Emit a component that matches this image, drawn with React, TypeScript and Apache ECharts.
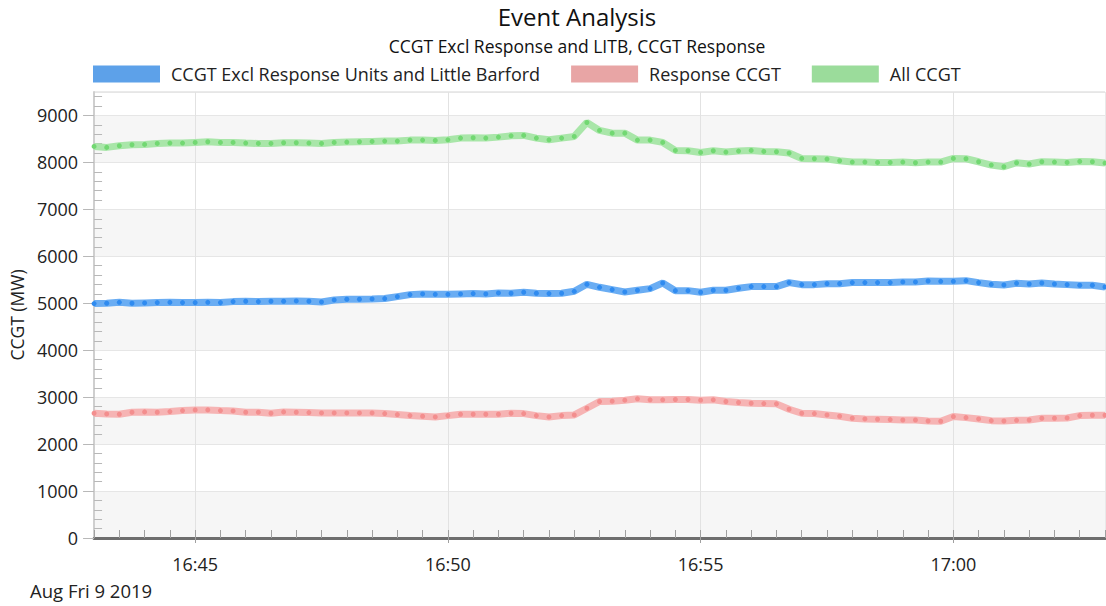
import React, { useEffect, useRef } from "react";
import * as echarts from "echarts";

const times = [
  "16:43:00", "16:43:15", "16:43:30", "16:43:45", "16:44:00", "16:44:15", "16:44:30", "16:44:45",
  "16:45:00", "16:45:15", "16:45:30", "16:45:45", "16:46:00", "16:46:15", "16:46:30", "16:46:45",
  "16:47:00", "16:47:15", "16:47:30", "16:47:45", "16:48:00", "16:48:15", "16:48:30", "16:48:45",
  "16:49:00", "16:49:15", "16:49:30", "16:49:45", "16:50:00", "16:50:15", "16:50:30", "16:50:45",
  "16:51:00", "16:51:15", "16:51:30", "16:51:45", "16:52:00", "16:52:15", "16:52:30", "16:52:45",
  "16:53:00", "16:53:15", "16:53:30", "16:53:45", "16:54:00", "16:54:15", "16:54:30", "16:54:45",
  "16:55:00", "16:55:15", "16:55:30", "16:55:45", "16:56:00", "16:56:15", "16:56:30", "16:56:45",
  "16:57:00", "16:57:15", "16:57:30", "16:57:45", "16:58:00", "16:58:15", "16:58:30", "16:58:45",
  "16:59:00", "16:59:15", "16:59:30", "16:59:45", "17:00:00", "17:00:15", "17:00:30", "17:00:45",
  "17:01:00", "17:01:15", "17:01:30", "17:01:45", "17:02:00", "17:02:15", "17:02:30", "17:02:45",
  "17:03:00",
];

const exclResponse = [
  4993, 5000, 5020, 5000, 5007, 5014, 5020, 5014, 5014, 5020, 5014, 5035, 5043, 5035, 5043, 5043,
  5050, 5043, 5028, 5071, 5085, 5085, 5092, 5100, 5142, 5184, 5199, 5191, 5191, 5199, 5206, 5199,
  5220, 5213, 5234, 5213, 5206, 5213, 5255, 5404, 5340, 5291, 5241, 5277, 5312, 5432, 5269, 5269,
  5234, 5277, 5277, 5319, 5355, 5355, 5355, 5440, 5397, 5397, 5418, 5418, 5440, 5440, 5440, 5440,
  5454, 5454, 5475, 5468, 5468, 5482, 5440, 5404, 5390, 5425, 5411, 5432, 5411, 5397, 5383, 5383,
  5347,
];

const responseCcgt = [
  2657, 2643, 2636, 2679, 2686, 2679, 2693, 2714, 2729, 2729, 2714, 2707, 2679, 2679, 2657, 2686,
  2679, 2672, 2664, 2664, 2664, 2664, 2664, 2650, 2629, 2607, 2593, 2579, 2607, 2636, 2636, 2636,
  2636, 2657, 2650, 2607, 2579, 2607, 2622, 2764, 2907, 2914, 2936, 2964, 2943, 2943, 2950, 2950,
  2936, 2943, 2907, 2886, 2871, 2864, 2857, 2743, 2657, 2650, 2622, 2593, 2550, 2536, 2529, 2522,
  2514, 2514, 2493, 2486, 2586, 2564, 2536, 2500, 2493, 2507, 2514, 2550, 2550, 2557, 2607, 2614,
  2614,
];

const allCcgt = [
  8340, 8320, 8355, 8376, 8383, 8404, 8412, 8412, 8426, 8440, 8426, 8426, 8412, 8404, 8404, 8419,
  8419, 8412, 8404, 8426, 8433, 8440, 8447, 8454, 8454, 8475, 8475, 8468, 8482, 8518, 8525, 8518,
  8539, 8567, 8575, 8518, 8482, 8518, 8553, 8851, 8681, 8624, 8624, 8475, 8475, 8426, 8256, 8248,
  8213, 8248, 8220, 8241, 8256, 8234, 8227, 8199, 8085, 8078, 8071, 8036, 8007, 8007, 8000, 8000,
  8007, 7993, 8007, 8007, 8085, 8078, 8014, 7944, 7908, 7993, 7965, 8014, 8007, 8000, 8021, 8014,
  7986,
];

const seriesNames = ["CCGT Excl Response Units and Little Barford", "Response CCGT", "All CCGT"];
const titleText = "Event Analysis";
const subtitleText = "CCGT Excl Response and LITB, CCGT Response";
const yAxisName = "CCGT (MW)";
const dateText = "Aug Fri 9 2019";
const axisStart = "16:43:00";
const axisEnd = "17:03:00";
const refTime = "16:45:00";

const FONT = "'Open Sans', 'Noto Sans', sans-serif";

const secOf = (t: string) => {
  const [h, m, s] = t.split(":").map(Number);
  return h * 3600 + m * 60 + s;
};
const rel = (t: string) => secOf(t) - secOf(refTime);
const fmt = (v: number) => {
  const total = Math.round(secOf(refTime) + v);
  const h = Math.floor(total / 3600);
  const m = Math.floor((total % 3600) / 60);
  return `${h}:${String(m).padStart(2, "0")}`;
};

const lineColors = ["#6aadf3", "#f6b4b4", "#a9e6a9"];
const dotColors = ["#2f8bf0", "#f38e8e", "#72d872"];
const legendColors = ["#5da1e9", "#e8a5a5", "#9bdc9b"];

export default function App() {
  const ref = useRef<HTMLDivElement>(null);
  useEffect(() => {
    if (!ref.current) return;
    const chart = echarts.init(ref.current, undefined, { renderer: "svg" });
    const xMin = rel(axisStart);
    const xMax = rel(axisEnd);
    const values = [exclResponse, responseCcgt, allCcgt];
    chart.setOption({
      animation: false,
      textStyle: { fontFamily: FONT },
      grid: {
        left: 93, right: 1, top: 92, bottom: 68,
        show: true, borderColor: "#d4d4d4", borderWidth: 1,
      },
      legend: {
        left: 93, top: 65, padding: 0, itemWidth: 67, itemHeight: 17, itemGap: 31, icon: "rect",
        textStyle: { fontSize: 18, color: "#222", fontFamily: FONT, padding: [0, 0, 0, 6] },
        data: seriesNames.map((n, i) => ({ name: n, itemStyle: { color: legendColors[i] } })),
      },
      xAxis: [
        {
          type: "value", min: xMin, max: xMax, interval: 30, position: "bottom",
          axisLine: { show: true, onZero: false, lineStyle: { color: "#6e6e6e", width: 3 } },
          axisTick: { show: true, inside: true, length: 8, lineStyle: { color: "#a0a0a0" } },
          axisLabel: { show: false },
          splitLine: { show: false },
        },
        {
          type: "value", min: xMin, max: xMax, splitNumber: 4, position: "bottom",
          axisLine: { show: false, onZero: false },
          axisTick: { show: true, inside: false, length: 5, lineStyle: { color: "#a0a0a0" } },
          axisLabel: {
            formatter: fmt, showMinLabel: false, showMaxLabel: false, margin: 17,
            fontSize: 18, color: "#222", fontFamily: FONT,
          },
          splitLine: { show: true, showMinLine: false, showMaxLine: false, lineStyle: { color: "#e2e2e2" } },
        },
      ],
      yAxis: [
        {
          type: "value", min: 0, max: 9500, interval: 1000, position: "left",
          name: yAxisName, nameLocation: "middle", nameGap: 66, nameRotate: 90,
          nameTextStyle: { fontSize: 17.5, color: "#222", fontFamily: FONT },
          axisLine: { show: true, onZero: false, lineStyle: { color: "#cfcfcf", width: 2 } },
          axisTick: { show: true, inside: false, length: 11, lineStyle: { color: "#b8b8b8" } },
          axisLabel: {
            formatter: (v: number) => String(v), showMaxLabel: false, margin: 16,
            fontSize: 18, color: "#222", fontFamily: FONT,
          },
          splitLine: { show: true, lineStyle: { color: "#e6e6e6" } },
          splitArea: { show: true, areaStyle: { color: ["#f6f6f6", "#ffffff"] } },
        },
        {
          type: "value", min: 0, max: 9500, interval: 1000, position: "left",
          axisLine: { show: false, onZero: false },
          axisTick: { show: false, inside: true },
          minorTick: { show: true, splitNumber: 5, length: 8, lineStyle: { color: "#b8b8b8" } },
          axisLabel: { show: false },
          splitLine: { show: false },
        },
      ],
      series: seriesNames.map((n, i) => ({
        name: n,
        type: "line",
        xAxisIndex: 0,
        yAxisIndex: 0,
        data: times.map((t, k) => [rel(t), values[i][k]]),
        symbol: "circle",
        symbolSize: 5,
        showSymbol: true,
        itemStyle: { color: dotColors[i] },
        lineStyle: { color: lineColors[i], width: 7 },
        z: 3 + i,
      })),
      graphic: [
        { type: "text", x: 577, y: 16, style: { text: titleText, fontSize: 24, fill: "#111", fontFamily: FONT, align: "center", verticalAlign: "middle" } },
        { type: "text", x: 577, y: 46, style: { text: subtitleText, fontSize: 17.5, fill: "#111", fontFamily: FONT, align: "center", verticalAlign: "middle" } },
        { type: "text", x: 30, y: 590, style: { text: dateText, fontSize: 18.5, fill: "#222", fontFamily: FONT, align: "left", verticalAlign: "middle" } },
      ],
    });
    return () => chart.dispose();
  }, []);
  return <div ref={ref} style={{ position: "absolute", left: 0, top: 0, width: 1106, height: 606 }} />;
}
